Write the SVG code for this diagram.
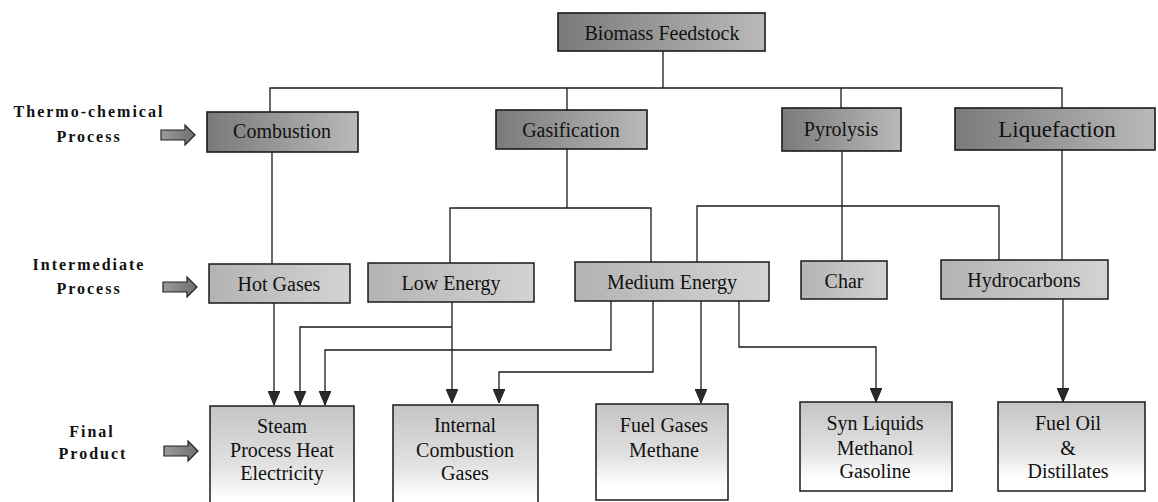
<svg xmlns="http://www.w3.org/2000/svg" width="1158" height="502" viewBox="0 0 1158 502">
<style>
.lbl{font-weight:bold;font-size:16px;letter-spacing:2px;fill:#111;text-anchor:middle}
.t{font-size:20px;fill:#111;text-anchor:middle}
.top{fill:url(#gTop);stroke:#1a1a1a;stroke-width:1.6}
.mid{fill:url(#gMid);stroke:#1a1a1a;stroke-width:1.5}
.fin{fill:url(#gFin);stroke:#1a1a1a;stroke-width:1.5}
.blk{fill:url(#gBlk);stroke:#222;stroke-width:1.2}
#connectors path{fill:none;stroke:#1a1a1a;stroke-width:1.3}
</style>
<defs>
<linearGradient id="gTop" x1="0" y1="0" x2="1" y2="0"><stop offset="0" stop-color="#7a7a7a"/><stop offset="1" stop-color="#b9b9b9"/></linearGradient>
<linearGradient id="gMid" x1="0" y1="0" x2="1" y2="0"><stop offset="0" stop-color="#b3b3b3"/><stop offset="1" stop-color="#d3d3d3"/></linearGradient>
<linearGradient id="gFin" x1="0" y1="0" x2="0" y2="1"><stop offset="0" stop-color="#c4c4c4"/><stop offset="0.55" stop-color="#e2e2e2"/><stop offset="0.85" stop-color="#ffffff"/></linearGradient>
<linearGradient id="gBlk" x1="0" y1="0" x2="1" y2="0"><stop offset="0" stop-color="#9a9a9a"/><stop offset="1" stop-color="#6e6e6e"/></linearGradient>
<marker id="ah" viewBox="0 0 14 12" refX="14" refY="6" markerWidth="14" markerHeight="12" markerUnits="userSpaceOnUse" orient="auto"><path d="M0,0 L14,6 L0,12 Z" fill="#2a2a2a" stroke="#111" stroke-width="0.8"/></marker>
<path id="blkArrow" d="M0,-5 H24 V-10 L34,0 L24,10 V5 H0 Z"/>
</defs>
<rect width="1158" height="502" fill="#ffffff"/>

<g id="labels" font-family="Liberation Serif, DejaVu Serif, serif">
<text class="lbl" x="89" y="117">Thermo-chemical</text>
<text class="lbl" x="89" y="142">Process</text>
<use href="#blkArrow" class="blk" transform="translate(161,135)"/>
<text class="lbl" x="89" y="270">Intermediate</text>
<text class="lbl" x="89" y="294">Process</text>
<use href="#blkArrow" class="blk" transform="translate(163,287)"/>
<text class="lbl" x="92" y="437">Final</text>
<text class="lbl" x="93" y="459">Product</text>
<use href="#blkArrow" class="blk" transform="translate(164,451)"/>
</g>

<g id="connectors">
<path d="M663,51 V88"/>
<path d="M270,112 V88 H1062 V108"/>
<path d="M567,88 V110"/>
<path d="M841,88 V108"/>
<path d="M272,152 V264"/>
<path d="M567,149 V208"/>
<path d="M450,263 V208 H651 V262"/>
<path d="M842,151 V261"/>
<path d="M697,262 V206 H999 V260"/>
<path d="M1062,150 V260"/>
<path d="M274,303 V405" marker-end="url(#ah)"/>
<path d="M452,327 H300 V405" marker-end="url(#ah)"/>
<path d="M452,302 V403" marker-end="url(#ah)"/>
<path d="M611,301 V350 H325 V405" marker-end="url(#ah)"/>
<path d="M653,301 V372 H499 V403" marker-end="url(#ah)"/>
<path d="M701,301 V403" marker-end="url(#ah)"/>
<path d="M739,301 V347 H876 V402" marker-end="url(#ah)"/>
<path d="M1063,299 V402" marker-end="url(#ah)"/>
</g>

<g font-family="Liberation Serif, DejaVu Serif, serif">
<g id="biomass"><rect class="top" x="558" y="13" width="207" height="38"/><text class="t" x="662" y="40">Biomass Feedstock</text></g>
<g id="combustion"><rect class="top" x="207" y="112" width="151" height="40"/><text class="t" x="282" y="138">Combustion</text></g>
<g id="gasification"><rect class="top" x="496" y="110" width="151" height="39"/><text class="t" x="571" y="137">Gasification</text></g>
<g id="pyrolysis"><rect class="top" x="782" y="108" width="119" height="43"/><text class="t" x="841" y="136">Pyrolysis</text></g>
<g id="liquefaction"><rect class="top" x="955" y="108" width="200" height="42"/><text class="t" x="1057" y="137" style="font-size:23px">Liquefaction</text></g>

<g id="hotgases"><rect class="mid" x="209" y="264" width="141" height="39"/><text class="t" x="279" y="291">Hot Gases</text></g>
<g id="lowenergy"><rect class="mid" x="368" y="263" width="166" height="39"/><text class="t" x="451" y="290">Low Energy</text></g>
<g id="mediumenergy"><rect class="mid" x="575" y="262" width="194" height="39"/><text class="t" x="672" y="289">Medium Energy</text></g>
<g id="char"><rect class="mid" x="801" y="261" width="86" height="38"/><text class="t" x="844" y="288">Char</text></g>
<g id="hydrocarbons"><rect class="mid" x="941" y="260" width="167" height="39"/><text class="t" x="1024" y="287">Hydrocarbons</text></g>

<g id="steam"><rect class="fin" x="210" y="406" width="144" height="110"/><text class="t" x="282" y="433">Steam</text><text class="t" x="282" y="457">Process Heat</text><text class="t" x="282" y="480">Electricity</text></g>
<g id="internal"><rect class="fin" x="393" y="405" width="145" height="110"/><text class="t" x="465" y="432">Internal</text><text class="t" x="465" y="457">Combustion</text><text class="t" x="465" y="480">Gases</text></g>
<g id="fuelgases"><rect class="fin" x="596" y="404" width="132" height="96"/><text class="t" x="664" y="432">Fuel Gases</text><text class="t" x="664" y="457">Methane</text></g>
<g id="synliquids"><rect class="fin" x="800" y="402" width="152" height="89"/><text class="t" x="875" y="430">Syn Liquids</text><text class="t" x="875" y="455">Methanol</text><text class="t" x="875" y="478">Gasoline</text></g>
<g id="fueloil"><rect class="fin" x="998" y="402" width="147" height="89"/><text class="t" x="1068" y="430">Fuel Oil</text><text class="t" x="1068" y="455">&amp;</text><text class="t" x="1068" y="478">Distillates</text></g>
</g>
</svg>
